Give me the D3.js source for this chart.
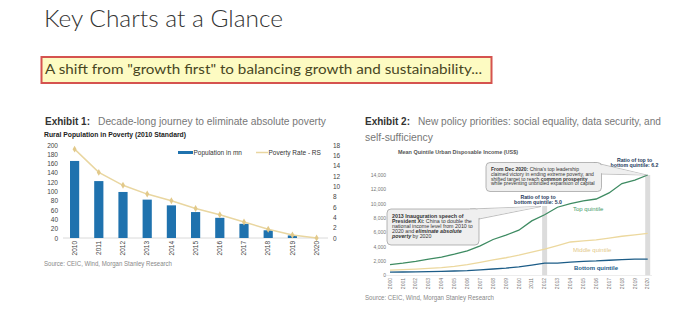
<!DOCTYPE html>
<html><head><meta charset="utf-8">
<script src="https://cdn.jsdelivr.net/npm/d3@7"></script>
<style>body{margin:0;background:#fff}svg{display:block}</style>
</head><body>
<script>
const povYears = ["2010","2011","2012","2013","2014","2015","2016","2017","2018","2019","2020"];
const povPopulation = [165.7,122.4,99,82.5,70.2,55.8,43.4,30.5,16.6,5.5,0];
const povRate = [17.2,12.7,10.2,8.5,7.2,5.7,4.5,3.1,1.7,0.6,0];
const povLeftTicks = [0,20,40,60,80,100,120,140,160,180,200];
const povRightTicks = [0,2,4,6,8,10,12,14,16,18];

const incYears = ["2000","2001","2002","2003","2004","2005","2006","2007","2008","2009","2010","2011","2012","2013","2014","2015","2016","2017","2018","2019","2020"];
const topQuintile = [1500,1700,1950,2250,2550,2950,3400,4100,5000,5600,6300,7600,8450,9500,10000,10400,10650,11500,12800,13300,14000];
const middleQuintile = [720,780,860,960,1080,1250,1480,1800,2150,2450,2800,3250,3650,4150,4650,4800,4950,5200,5450,5650,5850];
const bottomQuintile = [450,460,470,500,540,600,660,760,880,1000,1180,1420,1690,1700,1850,1950,2000,2100,2200,2250,2270];
const incTicks = [0,2000,4000,6000,8000,10000,12000,14000];
const highlightYears = ["2012","2020"];

const W = 681, H = 325;
const svg = d3.select("body").append("svg").attr("width", W).attr("height", H);
const SANS = "'Liberation Sans', Arial, sans-serif";

// Page title
svg.append("text").attr("x", 44).attr("y", 27).attr("font-family", "Lato, 'Open Sans', sans-serif")
  .attr("font-weight", 300).attr("font-size", 23).attr("fill", "#333")
  .attr("textLength", 239).attr("lengthAdjust", "spacingAndGlyphs").text("Key Charts at a Glance");

// Highlight box
svg.append("rect").attr("x", 41.5).attr("y", 57).attr("width", 450).attr("height", 26)
  .attr("fill", "#fdfbc2").attr("stroke", "#d5534f").attr("stroke-width", 2);
svg.append("text").attr("x", 45).attr("y", 74).attr("font-family", "Lato, 'Open Sans', sans-serif")
  .attr("font-size", 14).attr("fill", "#48461f")
  .attr("textLength", 437).attr("lengthAdjust", "spacingAndGlyphs")
  .text('A shift from "growth first" to balancing growth and sustainability...');

// ===== Exhibit 1 =====
const h1 = svg.append("text").attr("y", 125).attr("font-family", SANS).attr("font-size", 10);
h1.append("tspan").attr("x", 45).attr("font-weight", "bold").attr("fill", "#333").text("Exhibit 1:");
h1.append("tspan").attr("x", 98).attr("fill", "#777").attr("textLength", 228).attr("lengthAdjust", "spacingAndGlyphs")
  .text("Decade-long journey to eliminate absolute poverty");
svg.append("text").attr("x", 44).attr("y", 137).attr("font-family", SANS).attr("font-size", 6.6)
  .attr("font-weight", "bold").attr("fill", "#222").attr("textLength", 142).attr("lengthAdjust", "spacingAndGlyphs")
  .text("Rural Population in Poverty (2010 Standard)");

const x1 = d3.scaleBand().domain(povYears).range([62.5, 328.7]).paddingInner(0.62).paddingOuter(0.31);
const y1 = d3.scaleLinear().domain([0, 200]).range([238, 145]);
const y1r = d3.scaleLinear().domain([0, 18]).range([238, 145]);

const lAxis = svg.append("g").attr("transform", "translate(60,0)")
  .call(d3.axisLeft(y1).tickValues(povLeftTicks).tickSize(0).tickPadding(2));
const rAxis = svg.append("g").attr("transform", "translate(331,0)")
  .call(d3.axisRight(y1r).tickValues(povRightTicks).tickSize(0).tickPadding(2));
[lAxis, rAxis].forEach(a => {
  a.select(".domain").remove();
  a.selectAll("text").attr("font-family", SANS).attr("font-size", 6.5).attr("fill", "#444");
});
svg.append("line").attr("x1", 63).attr("x2", 328).attr("y1", 238).attr("y2", 238).attr("stroke", "#d0d0d0").attr("stroke-width", 0.8);

svg.append("g").selectAll("rect").data(povYears).join("rect")
  .attr("x", d => x1(d)).attr("width", x1.bandwidth())
  .attr("y", (d, i) => y1(povPopulation[i])).attr("height", (d, i) => y1(0) - y1(povPopulation[i]))
  .attr("fill", "#1f72ae");

const rateLine = d3.line().x((d, i) => x1(povYears[i]) + x1.bandwidth() / 2).y(d => y1r(d));
svg.append("path").datum(povRate).attr("d", rateLine).attr("fill", "none").attr("stroke", "#e9d6a0").attr("stroke-width", 1.5);
svg.append("g").selectAll("path").data(povRate).join("path")
  .attr("d", d3.symbol(d3.symbolDiamond, 14))
  .attr("transform", (d, i) => `translate(${x1(povYears[i]) + x1.bandwidth() / 2},${y1r(d)})`)
  .attr("fill", "#e2c98a");

svg.append("g").selectAll("text").data(povYears).join("text")
  .attr("transform", d => `translate(${x1(d) + x1.bandwidth() / 2 + 2.2},241) rotate(-90)`)
  .attr("text-anchor", "end").attr("font-family", SANS).attr("font-size", 6.5).attr("fill", "#444").text(d => d);

// legend
svg.append("rect").attr("x", 178).attr("y", 151).attr("width", 15).attr("height", 3).attr("fill", "#1f72ae");
svg.append("text").attr("x", 193.5).attr("y", 154.5).attr("font-family", SANS).attr("font-size", 6.5).attr("fill", "#333").text("Population in mn");
svg.append("line").attr("x1", 256).attr("x2", 268).attr("y1", 152.5).attr("y2", 152.5).attr("stroke", "#e9d6a0").attr("stroke-width", 1.5);
svg.append("text").attr("x", 268.5).attr("y", 154.5).attr("font-family", SANS).attr("font-size", 6.5).attr("fill", "#333").text("Poverty Rate - RS");

svg.append("text").attr("x", 44).attr("y", 266).attr("font-family", SANS).attr("font-size", 6.3).attr("fill", "#888")
  .attr("textLength", 128).attr("lengthAdjust", "spacingAndGlyphs").text("Source: CEIC, Wind, Morgan Stanley Research");

// ===== Exhibit 2 =====
const h2 = svg.append("text").attr("y", 125).attr("font-family", SANS).attr("font-size", 10);
h2.append("tspan").attr("x", 365).attr("font-weight", "bold").attr("fill", "#333").text("Exhibit 2:");
h2.append("tspan").attr("x", 418).attr("fill", "#777").attr("textLength", 243).attr("lengthAdjust", "spacingAndGlyphs")
  .text("New policy priorities: social equality, data security, and");
svg.append("text").attr("x", 365).attr("y", 140.5).attr("font-family", SANS).attr("font-size", 10).attr("fill", "#777")
  .attr("textLength", 68).attr("lengthAdjust", "spacingAndGlyphs").text("self-sufficiency");
svg.append("text").attr("x", 398).attr("y", 154).attr("font-family", SANS).attr("font-size", 5.3).attr("font-weight", "bold")
  .attr("fill", "#555").attr("textLength", 120).attr("lengthAdjust", "spacingAndGlyphs").text("Mean Quintile Urban Disposable Income (US$)");

const x2 = d3.scalePoint().domain(incYears).range([390, 647.7]);
const y2 = d3.scaleLinear().domain([0, 14000]).range([275.3, 175]);

// highlight bands
const bandTop = {"2012": 206, "2020": 175};
svg.append("g").selectAll("rect").data(highlightYears).join("rect")
  .attr("x", d => x2(d) - 2.5).attr("width", 5)
  .attr("y", d => bandTop[d]).attr("height", d => y2(0) - bandTop[d])
  .attr("fill", "#dcdcdc");

const a2 = svg.append("g").attr("transform", "translate(386,0)")
  .call(d3.axisLeft(y2).tickValues(incTicks).tickSize(0).tickPadding(0).tickFormat(d3.format(",")));
a2.select(".domain").remove();
a2.selectAll("text").attr("font-family", SANS).attr("font-size", 5).attr("fill", "#777");
svg.append("line").attr("x1", 386).attr("x2", 652).attr("y1", 275.5).attr("y2", 275.5).attr("stroke", "#e0e0e0").attr("stroke-width", 0.6);

svg.append("g").selectAll("text").data(incYears).join("text")
  .attr("transform", d => `translate(${x2(d) + 1.7},278) rotate(-90)`)
  .attr("text-anchor", "end").attr("font-family", SANS).attr("font-size", 5).attr("fill", "#777").text(d => d);

const incLine = d3.line().x((d, i) => x2(incYears[i])).y(d => y2(d));
[[topQuintile, "#3e8b62"], [middleQuintile, "#ecd89e"], [bottomQuintile, "#1c5c87"]].forEach(([s, c]) => {
  svg.append("path").datum(s).attr("d", incLine).attr("fill", "none").attr("stroke", c).attr("stroke-width", 1.3);
});

svg.append("text").attr("x", 573).attr("y", 211).attr("font-family", SANS).attr("font-size", 6).attr("fill", "#3e9a6a").text("Top quintile");
svg.append("text").attr("x", 573).attr("y", 252).attr("font-family", SANS).attr("font-size", 6).attr("fill", "#e3c98a").text("Middle quintile");
svg.append("text").attr("x", 574).attr("y", 270).attr("font-family", SANS).attr("font-size", 6).attr("font-weight", "bold").attr("fill", "#1c5c87").text("Bottom quintile");

// ratio labels
function ratio(cx, y, v) {
  const t = svg.append("text").attr("font-family", SANS).attr("font-size", 5.2).attr("font-weight", "bold")
    .attr("fill", "#1e3a5c").attr("text-anchor", "middle");
  t.append("tspan").attr("x", cx).attr("y", y).text("Ratio of top to");
  t.append("tspan").attr("x", cx).attr("y", y + 5.3).text("bottom quintile: " + v);
}
ratio(538, 198.5, "5.0");
ratio(634.5, 161.5, "6.2");

// callouts
function callout(bx, by, bw, bh, tail, lines, fs, lh) {
  const g = svg.append("g");
  g.append("path").attr("d", d3.line()(tail) + "Z").attr("fill", "#efefef").attr("stroke", "#9a9a9a").attr("stroke-width", 0.6);
  g.append("rect").attr("x", bx).attr("y", by).attr("width", bw).attr("height", bh).attr("rx", 4)
    .attr("fill", "#efefef").attr("stroke", "#9a9a9a").attr("stroke-width", 0.7);
  g.append("path").attr("d", d3.line()(tail.map((p, i) => i === 1 ? p : [p[0] - 1.2, p[1] + (i === 0 ? 0.8 : -0.8)])) + "Z")
    .attr("fill", "#efefef");
  const t = g.append("text").attr("font-family", SANS).attr("font-size", fs).attr("fill", "#333");
  lines.forEach((segs, i) => {
    segs.forEach((s, j) => {
      const ts = t.append("tspan").text(s.t);
      if (j === 0) ts.attr("x", bx + 5).attr("y", by + 8.5 + i * lh);
      if (s.b) ts.attr("font-weight", "bold");
      if (s.i) ts.attr("font-style", "italic");
    });
  });
}
callout(387, 209, 92, 36, [[470, 209], [541, 206.5], [479, 219]], [
  [{t: "2013 Inauguration speech of", b: 1}],
  [{t: "President Xi:", b: 1}, {t: " China to double the"}],
  [{t: "national income level from 2010 to"}],
  [{t: "2020 and "}, {t: "eliminate absolute", b: 1, i: 1}],
  [{t: "poverty", b: 1, i: 1}, {t: " by 2020"}]
], 5.3, 5.2);
callout(486, 162.5, 115.5, 29, [[594, 162.5], [646.5, 175], [601.5, 174]], [
  [{t: "From Dec 2020:", b: 1}, {t: " China's top leadership"}],
  [{t: "claimed victory in ending extreme poverty, and"}],
  [{t: "shifted target to reach "}, {t: "common prosperity", b: 1}],
  [{t: "while preventing unbridled expansion of capital"}]
], 5, 4.8);

svg.append("text").attr("x", 365).attr("y", 300).attr("font-family", SANS).attr("font-size", 6.3).attr("fill", "#888")
  .attr("textLength", 129).attr("lengthAdjust", "spacingAndGlyphs").text("Source: CEIC, Wind, Morgan Stanley Research");
</script>
</body></html>
